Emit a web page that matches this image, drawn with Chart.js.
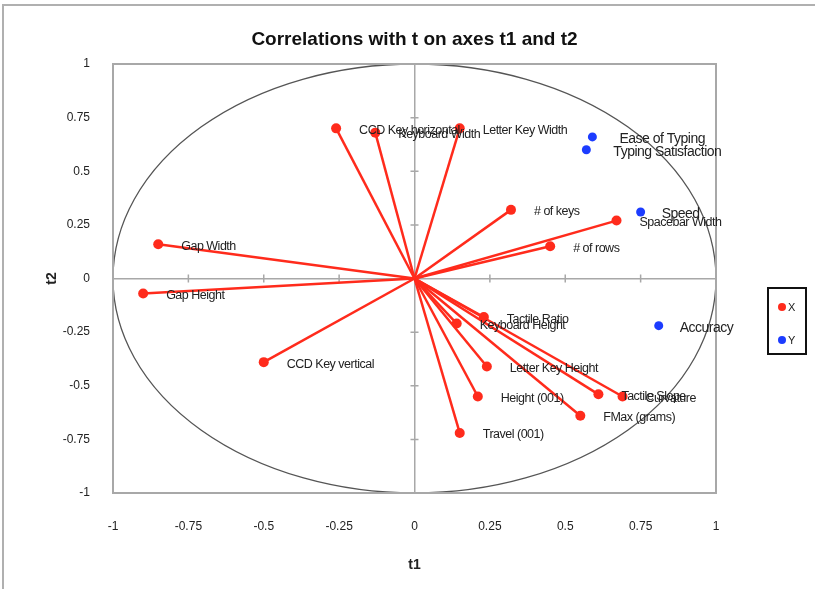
<!DOCTYPE html>
<html>
<head>
<meta charset="utf-8">
<script src="https://cdn.jsdelivr.net/npm/chart.js@4/dist/chart.umd.min.js"></script>
<style>
  html, body { margin: 0; padding: 0; background: #fff; }
  #wrap { width: 815px; height: 589px; }
</style>
</head>
<body>
<div id="wrap"><canvas id="corrChart" width="815" height="589"></canvas></div>
<script>
// X variables (red vectors from origin)
const xNames = ["CCD Key horizontal", "Keyboard Width", "Letter Key Width", "# of keys", "Spacebar Width",
  "# of rows", "Gap Width", "Gap Height", "Tactile Ratio", "Keyboard Height", "Letter Key Height",
  "CCD Key vertical", "Height (001)", "Tactile Slope", "Curvature", "FMax (grams)", "Travel (001)"];
const xT1 = [-0.26, -0.13, 0.15, 0.32, 0.67, 0.45, -0.85, -0.90, 0.23, 0.14, 0.24, -0.50, 0.21, 0.61, 0.69, 0.55, 0.15];
const xT2 = [0.70, 0.68, 0.70, 0.32, 0.27, 0.15, 0.16, -0.07, -0.18, -0.21, -0.41, -0.39, -0.55, -0.54, -0.55, -0.64, -0.72];

// Y variables (blue points)
const yNames = ["Ease of Typing", "Typing Satisfaction", "Speed", "Accuracy"];
const yT1 = [0.59, 0.57, 0.75, 0.81];
const yT2 = [0.66, 0.60, 0.31, -0.22];

const tickValues = [-1, -0.75, -0.5, -0.25, 0, 0.25, 0.5, 0.75, 1];
const chartTitle = "Correlations with t on axes t1 and t2";

const RED = "#ff2b1c";
const BLUE = "#1c3cff";
const GRAY = "#a8a8a8";
const FONT = "'Liberation Sans', Arial, sans-serif";

const datasets = xNames.map((name, i) => ({
  label: name,
  group: "X",
  data: [{ x: 0, y: 0 }, { x: xT1[i], y: xT2[i] }],
  showLine: true,
  borderColor: RED,
  backgroundColor: RED,
  borderWidth: 2.5,
  pointRadius: c => c.dataIndex === 0 ? 0 : 5,
  pointBorderWidth: 0
}));
datasets.push({
  label: "Y",
  group: "Y",
  data: yNames.map((n, i) => ({ x: yT1[i], y: yT2[i] })),
  showLine: false,
  borderColor: BLUE,
  backgroundColor: BLUE,
  pointRadius: 4.5,
  pointBorderWidth: 0
});

const decor = {
  id: "decor",
  beforeDatasetsDraw(chart) {
    const { ctx, chartArea: a, scales: { x, y } } = chart;
    ctx.save();
    // unit circle
    const cx = x.getPixelForValue(0), cy = y.getPixelForValue(0);
    const rx = x.getPixelForValue(1) - cx, ry = cy - y.getPixelForValue(1);
    ctx.strokeStyle = "#555";
    ctx.lineWidth = 1.3;
    ctx.beginPath();
    ctx.ellipse(cx, cy, rx, ry, 0, 0, Math.PI * 2);
    ctx.stroke();
    // small cross ticks on the zero axes
    ctx.strokeStyle = GRAY;
    ctx.lineWidth = 1.5;
    tickValues.forEach(v => {
      if (v === 0 || Math.abs(v) === 1) return;
      const px = x.getPixelForValue(v), py = y.getPixelForValue(v);
      ctx.beginPath();
      ctx.moveTo(px, cy - 4); ctx.lineTo(px, cy + 4);
      ctx.moveTo(cx - 4, py); ctx.lineTo(cx + 4, py);
      ctx.stroke();
    });
    // plot border
    ctx.lineWidth = 2;
    ctx.strokeRect(a.left, a.top, a.right - a.left, a.bottom - a.top);
    ctx.restore();
  },
  afterDatasetsDraw(chart) {
    const { ctx } = chart;
    ctx.save();
    ctx.fillStyle = "#222";
    ctx.textBaseline = "middle";
    ctx.textAlign = "left";
    if ("letterSpacing" in ctx) ctx.letterSpacing = "-0.5px";
    chart.data.datasets.forEach((ds, di) => {
      const meta = chart.getDatasetMeta(di);
      if (ds.group === "X") {
        const p = meta.data[1];
        ctx.font = "12.5px " + FONT;
        ctx.fillText(ds.label, p.x + 23, p.y + 2);
      } else {
        ctx.font = "14px " + FONT;
        meta.data.forEach((p, i) => ctx.fillText(yNames[i], p.x + (i < 2 ? 27 : 21), p.y + 2.5));
      }
    });
    ctx.restore();
  },
  afterDraw(chart) {
    const { ctx, chartArea: a } = chart;
    ctx.save();
    // title centred over the plot area
    ctx.fillStyle = "#111";
    ctx.font = "bold 19px " + FONT;
    ctx.textAlign = "center";
    ctx.textBaseline = "middle";
    ctx.fillText(chartTitle, (a.left + a.right) / 2, 40);
    // outer frame edges
    ctx.strokeStyle = "#b0b0b0";
    ctx.lineWidth = 2;
    ctx.beginPath();
    ctx.moveTo(3, 589); ctx.lineTo(3, 5); ctx.lineTo(815, 5);
    ctx.stroke();
    // legend
    ctx.strokeStyle = "#111";
    ctx.lineWidth = 2;
    ctx.strokeRect(768, 288, 38, 66);
    ctx.font = "11px " + FONT;
    ctx.textAlign = "left";
    ctx.fillStyle = RED;
    ctx.beginPath(); ctx.arc(782, 307, 4, 0, Math.PI * 2); ctx.fill();
    ctx.fillStyle = BLUE;
    ctx.beginPath(); ctx.arc(782, 340, 4, 0, Math.PI * 2); ctx.fill();
    ctx.fillStyle = "#222";
    ctx.fillText("X", 788, 308);
    ctx.fillText("Y", 788, 341);
    ctx.restore();
  }
};

const axisOpts = (titleText, pad) => ({
  type: "linear",
  min: -1,
  max: 1,
  afterBuildTicks: s => { s.ticks = tickValues.map(v => ({ value: v })); },
  ticks: {
    padding: pad,
    color: "#222",
    font: { family: FONT, size: 12 },
    callback: v => String(v)
  },
  grid: {
    drawTicks: false,
    color: c => c.tick && c.tick.value === 0 ? GRAY : "transparent",
    lineWidth: 1.5
  },
  border: { display: false },
  title: {
    display: true,
    text: titleText,
    color: "#222",
    font: { family: FONT, size: 14, weight: "bold" },
    padding: 0
  }
});

const xAxis = axisOpts("t1", 26);
xAxis.afterFit = s => { s.height = 81; };
const yAxis = axisOpts("t2", 23);
yAxis.afterFit = s => { s.width = 69; };

new Chart(document.getElementById("corrChart"), {
  type: "scatter",
  data: { datasets },
  options: {
    responsive: false,
    animation: false,
    layout: { padding: { left: 44, right: 99, top: 64, bottom: 15 } },
    plugins: {
      legend: { display: false },
      tooltip: { enabled: false },
      title: { display: false }
    },
    scales: { x: xAxis, y: yAxis }
  },
  plugins: [decor]
});
</script>
</body>
</html>
